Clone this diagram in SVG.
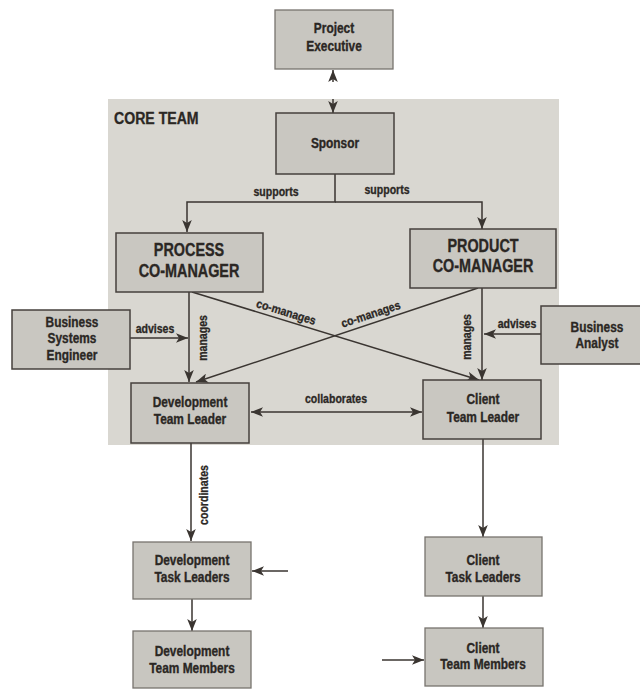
<svg xmlns="http://www.w3.org/2000/svg" width="640" height="689" viewBox="0 0 640 689">
  <defs>
    <style>
      .core { fill: #d9d7d1; }
      .box { fill: #c9c7c1; stroke: #45403c; stroke-width: 1.5; }
      .obox { fill: #c8c6c0; stroke: #77736e; stroke-width: 1.3; }
      .t { font-family: "Liberation Sans", Arial, sans-serif; font-weight: bold; font-size: 14px; fill: #2b2724; stroke: #2b2724; stroke-width: 0.35; text-anchor: middle; }
      .big { font-size: 18px; }
      .lbl { font-family: "Liberation Sans", Arial, sans-serif; font-weight: bold; font-size: 12px; fill: #2b2724; stroke: #2b2724; stroke-width: 0.3; text-anchor: middle; }
      .title { font-family: "Liberation Sans", Arial, sans-serif; font-weight: bold; font-size: 17px; fill: #2b2724; stroke: #2b2724; stroke-width: 0.35; }
      .c { fill: none; stroke: #3a3531; stroke-width: 1.5; }
      .a { marker-end: url(#ah); }
      .aa { marker-start: url(#ah); marker-end: url(#ah); }
    </style>
    <marker id="ah" viewBox="0 0 10 8" refX="10" refY="4" markerWidth="12" markerHeight="10" markerUnits="userSpaceOnUse" orient="auto-start-reverse">
      <path d="M0,0 L10,4 L0,8 L2.5,4 z" fill="#3a3531"/>
    </marker>
  </defs>

  <rect width="640" height="689" fill="#ffffff"/>

  <!-- core team area -->
  <g id="core-team">
    <rect class="core" x="108" y="99" width="451" height="346"/>
    <text class="title" transform="translate(114 124) scale(.83 1)">CORE TEAM</text>
  </g>

  <!-- connectors -->
  <g id="connectors">
    <path class="c a" d="M333,82 V70"/>
    <path class="c a" d="M333,99 V113"/>
    <path class="c a" d="M335,174 V202 H187 V232"/>
    <path class="c a" d="M335,202 H482 V229"/>
    <path class="c a" d="M189,292 V382"/>
    <path class="c a" d="M482,288 V380"/>
    <path class="c a" d="M192,292 L479,380"/>
    <path class="c a" d="M478,288 L196,382"/>
    <path class="c a" d="M130,338 H188"/>
    <path class="c a" d="M541,334 H484"/>
    <path class="c aa" d="M251,412 H422"/>
    <path class="c a" d="M191,443 V541"/>
    <path class="c a" d="M483,439 V537"/>
    <path class="c a" d="M192,599 V631"/>
    <path class="c a" d="M483,596 V628"/>
    <path class="c a" d="M288,571 H252"/>
    <path class="c a" d="M382,660 H424"/>

    <text class="lbl" transform="translate(276 196) scale(.88 1)">supports</text>
    <text class="lbl" transform="translate(387 194) scale(.88 1)">supports</text>
    <text class="lbl" transform="translate(155 333) scale(.88 1)">advises</text>
    <text class="lbl" transform="translate(517 328) scale(.88 1)">advises</text>
    <text class="lbl" transform="translate(207 338) rotate(-90) scale(.88 1)">manages</text>
    <text class="lbl" transform="translate(471 337) rotate(-90) scale(.88 1)">manages</text>
    <text class="lbl" transform="translate(285 316) rotate(17) scale(.88 1)">co-manages</text>
    <text class="lbl" transform="translate(372 318) rotate(-18.4) scale(.88 1)">co-manages</text>
    <text class="lbl" transform="translate(336 403) scale(.88 1)">collaborates</text>
    <text class="lbl" transform="translate(208 495) rotate(-90) scale(.88 1)">coordinates</text>
  </g>

  <g id="project-executive">
    <rect class="obox" x="275" y="10" width="118" height="59"/>
    <text class="t" transform="translate(334 33) scale(.85 1)"><tspan x="0">Project</tspan><tspan x="0" dy="18">Executive</tspan></text>
  </g>

  <g id="sponsor">
    <rect class="box" x="276" y="113" width="118" height="61"/>
    <text class="t" transform="translate(335 148) scale(.85 1)">Sponsor</text>
  </g>

  <g id="process-co-manager">
    <rect class="box" x="116" y="233" width="147" height="59"/>
    <text class="t big" transform="translate(189 256) scale(.8 1)"><tspan x="0">PROCESS</tspan><tspan x="0" dy="21">CO-MANAGER</tspan></text>
  </g>

  <g id="product-co-manager">
    <rect class="box" x="410" y="229" width="146" height="59"/>
    <text class="t big" transform="translate(483 252) scale(.8 1)"><tspan x="0">PRODUCT</tspan><tspan x="0" dy="20">CO-MANAGER</tspan></text>
  </g>

  <g id="business-systems-engineer">
    <rect class="box" x="12" y="310" width="118" height="59"/>
    <text class="t" transform="translate(72 327) scale(.85 1)"><tspan x="0">Business</tspan><tspan x="0" dy="16.5">Systems</tspan><tspan x="0" dy="16.5">Engineer</tspan></text>
  </g>

  <g id="business-analyst">
    <rect class="box" x="541" y="306" width="104" height="58"/>
    <text class="t" transform="translate(597 332) scale(.85 1)"><tspan x="0">Business</tspan><tspan x="0" dy="16.5">Analyst</tspan></text>
  </g>

  <g id="development-team-leader">
    <rect class="box" x="131" y="383" width="118" height="60"/>
    <text class="t" transform="translate(190 407) scale(.85 1)"><tspan x="0">Development</tspan><tspan x="0" dy="17">Team Leader</tspan></text>
  </g>

  <g id="client-team-leader">
    <rect class="box" x="423" y="380" width="118" height="59"/>
    <text class="t" transform="translate(483 404) scale(.85 1)"><tspan x="0">Client</tspan><tspan x="0" dy="18">Team Leader</tspan></text>
  </g>

  <g id="development-task-leaders">
    <rect class="obox" x="133" y="542" width="118" height="57"/>
    <text class="t" transform="translate(192 565) scale(.85 1)"><tspan x="0">Development</tspan><tspan x="0" dy="17">Task Leaders</tspan></text>
  </g>

  <g id="client-task-leaders">
    <rect class="obox" x="425" y="537" width="117" height="59"/>
    <text class="t" transform="translate(483 565) scale(.85 1)"><tspan x="0">Client</tspan><tspan x="0" dy="17">Task Leaders</tspan></text>
  </g>

  <g id="development-team-members">
    <rect class="obox" x="133" y="631" width="118" height="57"/>
    <text class="t" transform="translate(192 656) scale(.85 1)"><tspan x="0">Development</tspan><tspan x="0" dy="17">Team Members</tspan></text>
  </g>

  <g id="client-team-members">
    <rect class="obox" x="425" y="628" width="118" height="58"/>
    <text class="t" transform="translate(483 653) scale(.85 1)"><tspan x="0">Client</tspan><tspan x="0" dy="16">Team Members</tspan></text>
  </g>
</svg>
